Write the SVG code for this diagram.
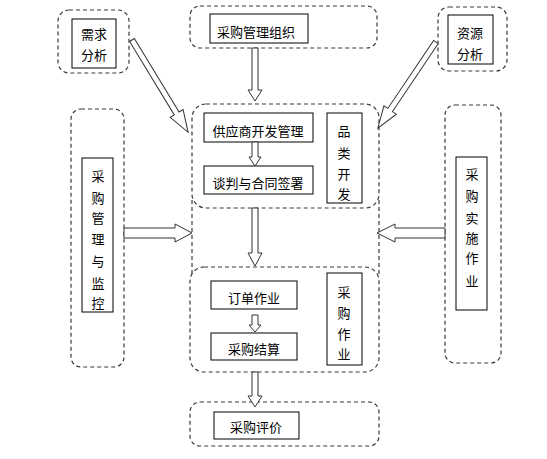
<svg xmlns="http://www.w3.org/2000/svg" width="547" height="459" viewBox="0 0 547 459">
<style>
.dash{fill:none;stroke:#3a3a3a;stroke-width:1.2;stroke-dasharray:4,3}
.box{fill:#fff;stroke:#000;stroke-width:1}
.t{font-family:"Noto Sans CJK SC","Noto Sans CJK JP",sans-serif;font-size:13px;fill:#000;text-anchor:middle;dominant-baseline:central}
.arr{fill:#fff;stroke:#333;stroke-width:1;stroke-linejoin:miter}
</style>
<rect width="547" height="459" fill="#fff"/>
<g id="xqfx">
<rect class="dash" x="58" y="10" width="71" height="63" rx="11"/>
<rect class="box" x="72" y="19" width="44" height="49"/>
<text class="t" x="94" y="33">需求</text>
<text class="t" x="94" y="54">分析</text>
</g>
<g id="cgglzz">
<rect class="dash" x="190" y="6" width="187" height="42" rx="10"/>
<rect class="box" x="210" y="14" width="98" height="29"/>
<text class="t" x="256" y="31">采购管理组织</text>
</g>
<g id="zyfx">
<rect class="dash" x="438" y="7" width="69" height="64" rx="11"/>
<rect class="box" x="448" y="15" width="45" height="49"/>
<text class="t" x="470" y="32">资源</text>
<text class="t" x="470" y="53">分析</text>
</g>
<g id="frame">
<line class="dash" x1="192" y1="200" x2="192" y2="276"/>
<line class="dash" x1="379" y1="200" x2="379" y2="276"/>
</g>
<g id="pldf">
<rect class="dash" x="192" y="104" width="187" height="104" rx="14"/>
<rect class="box" x="204" y="113" width="109" height="29"/>
<text class="t" x="258" y="130">供应商开发管理</text>
<rect class="box" x="204" y="166" width="109" height="28"/>
<text class="t" x="258" y="182">谈判与合同签署</text>
<rect class="box" x="327" y="113" width="35" height="90"/>
<text class="t" x="344" y="130">品</text>
<text class="t" x="344" y="152">类</text>
<text class="t" x="344" y="173">开</text>
<text class="t" x="344" y="193">发</text>
</g>
<g id="cgzy">
<rect class="dash" x="190" y="267" width="189" height="105" rx="14"/>
<rect class="box" x="211" y="281" width="86" height="28"/>
<text class="t" x="254" y="297">订单作业</text>
<rect class="box" x="211" y="333" width="86" height="27"/>
<text class="t" x="254" y="348">采购结算</text>
<rect class="box" x="327" y="273" width="35" height="92"/>
<text class="t" x="344" y="291">采</text>
<text class="t" x="344" y="312">购</text>
<text class="t" x="344" y="333">作</text>
<text class="t" x="344" y="353">业</text>
</g>
<g id="cgpj">
<rect class="dash" x="190" y="402" width="189" height="44" rx="10"/>
<rect class="box" x="214" y="412" width="85" height="27"/>
<text class="t" x="256" y="426">采购评价</text>
</g>
<g id="cggl">
<rect class="dash" x="71" y="109" width="53" height="258" rx="10"/>
<rect class="box" x="82" y="158" width="31" height="154"/>
<text class="t" x="98" y="175">采</text>
<text class="t" x="98" y="197">购</text>
<text class="t" x="98" y="217">管</text>
<text class="t" x="98" y="238">理</text>
<text class="t" x="98" y="260">与</text>
<text class="t" x="98" y="282">监</text>
<text class="t" x="98" y="302">控</text>
</g>
<g id="cgss">
<rect class="dash" x="445" y="105" width="56" height="258" rx="10"/>
<rect class="box" x="456" y="157" width="31" height="153"/>
<text class="t" x="472" y="173">采</text>
<text class="t" x="472" y="195">购</text>
<text class="t" x="472" y="217">实</text>
<text class="t" x="472" y="237">施</text>
<text class="t" x="472" y="257">作</text>
<text class="t" x="472" y="280">业</text>
</g>
<g id="connectors">
<polygon class="arr" points="252,48 258,48 258,90 262,90 255,101 248,90 252,90"/>
<polygon class="arr" points="252,142 258,142 258,157 261,157 255,166 249,157 252,157"/>
<polygon class="arr" points="252,208 258,208 258,253 262,253 255,266 248,253 252,253"/>
<polygon class="arr" points="252,315 258,315 258,325 261,325 255,332 249,325 252,325"/>
<polygon class="arr" points="252,372 258,372 258,396 262,396 255,407 248,396 252,396"/>
<polygon class="arr" points="124,228 175,228 175,224 192,233 175,242 175,238 124,238"/>
<polygon class="arr" points="445,228 395,228 395,224 377,233 395,242 395,238 445,238"/>
<polygon class="arr" transform="translate(132,40) rotate(58.7)" points="0,-2.8 86,-2.8 86,-7.5 108,0 86,7.5 86,2.8 0,2.8"/>
<polygon class="arr" transform="translate(436,42) rotate(124)" points="0,-2.8 82,-2.8 82,-7.5 104,0 82,7.5 82,2.8 0,2.8"/>
</g>
</svg>
